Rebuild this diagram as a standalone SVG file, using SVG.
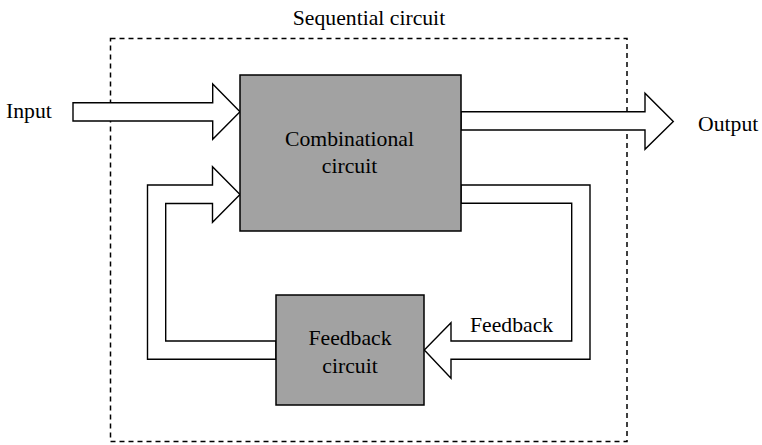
<svg xmlns="http://www.w3.org/2000/svg" width="762" height="445" viewBox="0 0 762 445">
<style>
.t{font-family:'Liberation Serif','DejaVu Serif',serif;font-size:21.7px;fill:#000}
.box{fill:#a2a2a2;stroke:#000;stroke-width:1.5}
.arrow{fill:#fff;stroke:#000;stroke-width:1.4;stroke-linejoin:miter}
.frame{fill:none;stroke:#000;stroke-width:1.5;stroke-dasharray:5 4}
</style>
<rect width="762" height="445" fill="#fff"/>
<g id="sequential-frame">
<rect class="frame" x="110.5" y="38.5" width="516.5" height="403"/>
<text class="t" x="369" y="25" text-anchor="middle">Sequential circuit</text>
</g>
<g id="connectors">
<polygon class="arrow" points="73,102.7 212.7,102.7 212.7,84 240,111.7 212.7,139.3 212.7,121 73,121"/>
<polygon class="arrow" points="461,111.7 645,111.7 645,93.3 673.3,121.5 645,149.3 645,130 461,130"/>
<polygon class="arrow" points="276,359.3 147.5,359.3 147.5,185 212.5,185 212.5,166.7 240,194.5 212.5,222.3 212.5,203.5 165.7,203.5 165.7,341 276,341"/>
<polygon class="arrow" points="461,185 590,185 590,359.3 451,359.3 451,378.3 424.3,350 451,322.7 451,341 571.7,341 571.7,203.3 461,203.3"/>
</g>
<g id="input-label"><text class="t" x="6" y="118">Input</text></g>
<g id="output-label"><text class="t" x="698" y="131">Output</text></g>
<g id="feedback-label"><text class="t" x="470" y="332">Feedback</text></g>
<g id="combinational-circuit">
<rect class="box" x="240" y="75" width="221" height="156"/>
<text class="t" x="349.5" y="146" text-anchor="middle">Combinational</text>
<text class="t" x="349.5" y="173" text-anchor="middle">circuit</text>
</g>
<g id="feedback-circuit">
<rect class="box" x="276" y="295" width="148" height="110"/>
<text class="t" x="350" y="345" text-anchor="middle">Feedback</text>
<text class="t" x="350" y="373" text-anchor="middle">circuit</text>
</g>
</svg>
